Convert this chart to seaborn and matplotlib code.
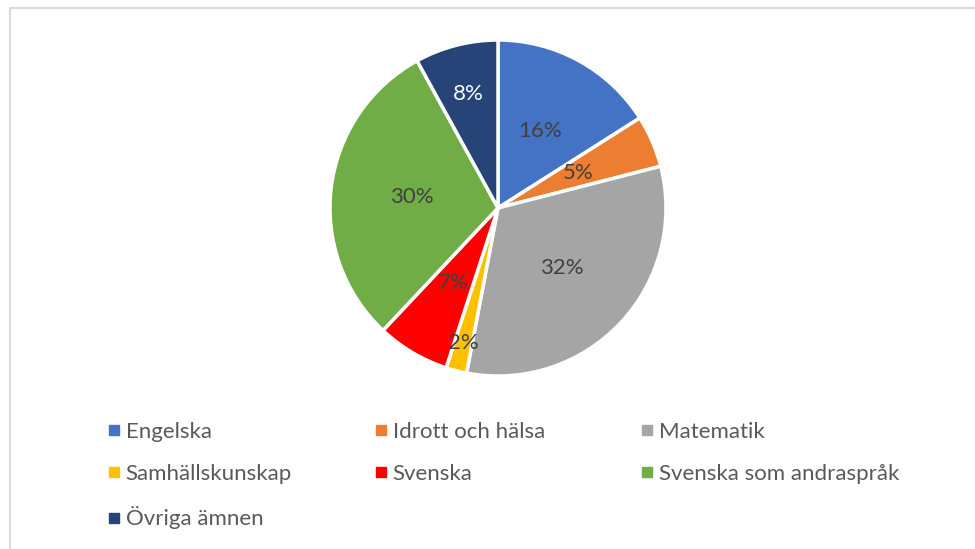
"""
Pie chart: share per subject (ämne), recreated with seaborn/matplotlib.
"""

import numpy as np
import matplotlib
matplotlib.use("Agg")
import matplotlib.pyplot as plt
from matplotlib.lines import Line2D
from matplotlib.patches import Rectangle
import seaborn as sns

subjects = ['Engelska', 'Idrott och hälsa', 'Matematik', 'Samhällskunskap',
            'Svenska', 'Svenska som andraspråk', 'Övriga ämnen']
shares = [16, 5, 32, 2, 7, 30, 8]
colors = ['#4472C4', '#ED7D31', '#A5A5A5', '#FFC000',
          '#FF0000', '#70AD47', '#264478']

# legend columns, read row by row in the picture
legend_cols = [
    ['Engelska', 'Samhällskunskap', 'Övriga ämnen'],
    ['Idrott och hälsa', 'Svenska'],
    ['Matematik', 'Svenska som andraspråk'],
]

sns.set_theme(style='white')
plt.rcParams['font.family'] = ['Lato', 'DejaVu Sans']

W, H = 975, 549
fig = plt.figure(figsize=(W / 100, H / 100), dpi=100)
fig.patch.set_facecolor('white')

# light grey chart frame (right and bottom edges are cut off)
fig.patches.append(Rectangle((10 / W, -0.1), 1.2, 1 - 8 / H + 0.1,
                             transform=fig.transFigure, fill=False,
                             edgecolor='#D9D9D9', linewidth=1.5))

cx, cy, r = 498, 208, 168
pad = 1.04
ax = fig.add_axes([(cx - r * pad) / W, 1 - (cy + r * pad) / H,
                   2 * r * pad / W, 2 * r * pad / H])

wedges, _, autotexts = ax.pie(
    shares, colors=colors, startangle=90, counterclock=False,
    autopct=lambda p: f'{p:.0f}%', pctdistance=0.52,
    wedgeprops=dict(edgecolor='white', linewidth=2.5),
    textprops=dict(fontsize=16, color='#404040'),
)
ax.set_xlim(-pad, pad)
ax.set_ylim(-pad, pad)
ax.set_aspect('equal')
ax.axis('off')

# move small-slice labels outward like the original
label_dist = [0.52, 0.52, 0.52, 0.83, 0.52, 0.52, 0.70]
for w, t, d in zip(wedges, autotexts, label_dist):
    mid = np.deg2rad((w.theta1 + w.theta2) / 2)
    t.set_position((d * np.cos(mid), d * np.sin(mid)))
autotexts[-1].set_color('white')

color_of = dict(zip(subjects, colors))
col_x = [108, 375, 641]
for x, names in zip(col_x, legend_cols):
    handles = [Line2D([], [], marker='s', linestyle='none', markersize=7.5,
                      color=color_of[n]) for n in names]
    fig.legend(handles, names, loc='upper left',
               bbox_to_anchor=(x / W, 1 - 422 / H), frameon=False,
               fontsize=16, labelcolor='#595959', handlelength=0.5,
               handletextpad=0.3, labelspacing=1.0, borderpad=0,
               borderaxespad=0)

fig.savefig('out.png', dpi=100)
